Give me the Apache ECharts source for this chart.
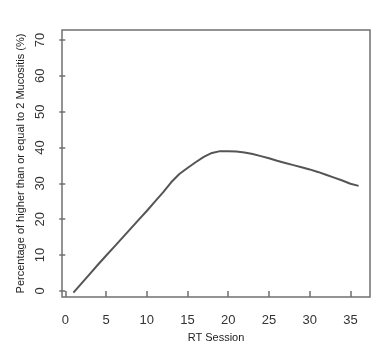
<!DOCTYPE html>
<html>
<head>
<meta charset="utf-8">
<script src="https://cdn.jsdelivr.net/npm/echarts@6/dist/echarts.min.js"></script>
<style>
html,body{margin:0;padding:0;background:#fff;}
#main{width:392px;height:353px;}
</style>
</head>
<body>
<div id="main"></div>
<script>
// RT session number and the percentage
var sessions=[1,2,3,4,5,6,7,8,9,10,11,12,13,14,15,16,17,18,19,20,21,22,23,24,25,26,27,28,29,30,31,32,33,34,35,36];
var percent=[-0.5,2.1,4.7,7.3,9.8,12.3,14.8,17.3,19.8,22.3,24.9,27.5,30.3,32.6,34.3,35.9,37.4,38.5,39.0,39.0,
    38.9,38.6,38.2,37.6,37.0,36.3,35.7,35.1,34.5,33.9,33.2,32.4,31.6,30.8,29.9,29.3];
var xTicks=[0,5,10,15,20,25,30,35];
var yTicks=[0,10,20,30,40,50,60,70];

var points=[];
for(var i=0;i<sessions.length;i++){
    points.push([sessions[i],percent[i]]);
}

var textFont="Liberation Sans";
var myChart=echarts.init(document.getElementById('main'));
var option={
    animation:false,
    grid:{
        left:62,right:22,top:30,bottom:56,
        show:true,
        borderColor:'#707070',
        borderWidth:1.5
    },
    xAxis:{
        type:'value',
        min:-0.4,max:37.4,
        name:'RT Session',
        nameLocation:'middle',
        nameGap:35,
        nameTextStyle:{fontFamily:textFont,fontSize:11,color:'#222'},
        axisLine:{show:false},
        splitLine:{show:false},
        axisTick:{show:true,customValues:xTicks,length:6,lineStyle:{color:'#707070',width:1.5}},
        axisLabel:{customValues:xTicks,margin:17,fontFamily:textFont,fontSize:13,color:'#333'}
    },
    yAxis:{
        type:'value',
        min:-1.7,max:72.8,
        name:'Percentage of higher than or equal to 2 Mucositis (%)',
        nameLocation:'middle',
        nameGap:34,
        nameRotate:90,
        nameTextStyle:{fontFamily:textFont,fontSize:11,color:'#222'},
        axisLine:{show:false},
        splitLine:{show:false},
        axisTick:{show:true,customValues:yTicks,length:6,lineStyle:{color:'#707070',width:1.5}},
        axisLabel:{customValues:yTicks,rotate:90,margin:15,fontFamily:textFont,fontSize:13,color:'#333'}
    },
    series:[{
        type:'line',
        data:points,
        showSymbol:false,
        smooth:false,
        lineStyle:{color:'#555',width:2}
    }]
};
myChart.setOption(option);
</script>
</body>
</html>
